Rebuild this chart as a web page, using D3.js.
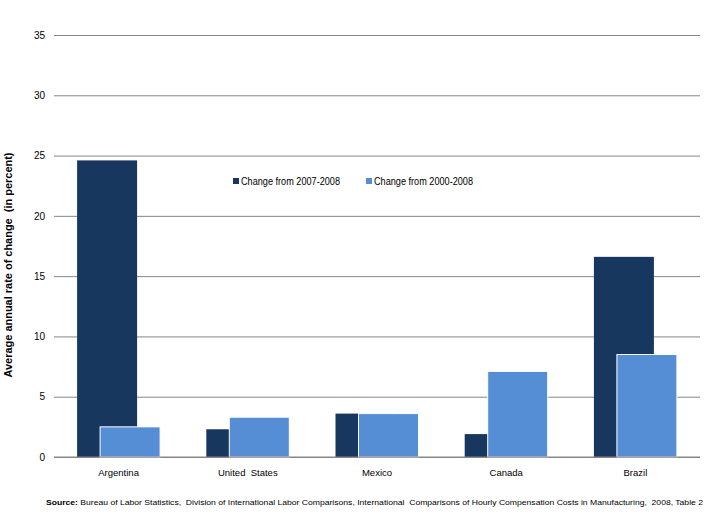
<!DOCTYPE html>
<html>
<head>
<meta charset="utf-8">
<script src="https://cdn.jsdelivr.net/npm/d3@7"></script>
<style>
  body { margin: 0; background: #fff; }
  svg text { font-family: "Liberation Sans", Arial, sans-serif; fill: #000; }
</style>
</head>
<body>
<div class="vis"></div>
<script>
const countries = ["Argentina", "United  States", "Mexico", "Canada", "Brazil"];
const seriesNames = ["Change from 2007-2008", "Change from 2000-2008"];
const change0708 = [24.6, 2.3, 3.6, 1.9, 16.6];
const change0008 = [2.5, 3.3, 3.6, 7.1, 8.5];
const yTicks = [0, 5, 10, 15, 20, 25, 30, 35];
const colors = ["#17375E", "#558ED5"];

const W = 711, H = 516;
const margin = { top: 35, right: 11, bottom: 59, left: 54 };
const width = W - margin.left - margin.right;
const height = H - margin.top - margin.bottom;

const svg = d3.select(".vis").append("svg")
  .attr("width", W).attr("height", H);
const g = svg.append("g")
  .attr("transform", "translate(" + margin.left + "," + margin.top + ")");

const x = d3.scaleBand().domain(countries).range([0, width]);
const y = d3.scaleLinear().domain([0, 35]).range([height, 0]);
// series offset inside each category (bars overlap, Excel style)
const barW = 60;
const off = d3.scaleLinear().domain([0, 1]).range([-41.5, -18.5]);

// gridlines + tick labels
const yAxis = g.append("g")
  .call(d3.axisLeft(y).tickValues(yTicks).tickSize(-width).tickPadding(9));
yAxis.select(".domain").remove();
yAxis.selectAll("line").attr("stroke", "#868686").attr("stroke-width", 1);
yAxis.selectAll("text").style("font-size", "10px");

const series = [change0708, change0008];
series.forEach((vals, si) => {
  g.selectAll(".bar" + si)
    .data(countries)
    .enter()
    .append("rect")
    .attr("x", (d) => x(d) + x.bandwidth() / 2 + off(si))
    .attr("y", (d, i) => y(vals[i]))
    .attr("width", barW)
    .attr("height", (d, i) => y(0) - y(vals[i]))
    .attr("fill", colors[si])
    .attr("stroke", si === 1 ? "#fff" : "none")
    .attr("stroke-width", 1);
});

// baseline
g.append("line")
  .attr("x1", 0).attr("x2", width)
  .attr("y1", y(0)).attr("y2", y(0))
  .attr("stroke", "#868686");

// category labels
g.selectAll(".xlab")
  .data(countries)
  .enter()
  .append("text")
  .attr("x", (d) => x(d) + x.bandwidth() / 2)
  .attr("y", height + 19)
  .attr("text-anchor", "middle")
  .style("font-size", "9.5px")
  .style("white-space", "pre")
  .text((d) => d);

// y title
svg.append("text")
  .attr("transform", "translate(12,265) rotate(-90)")
  .attr("text-anchor", "middle")
  .attr("textLength", 225)
  .attr("lengthAdjust", "spacingAndGlyphs")
  .style("font-size", "11.5px")
  .style("font-weight", "bold")
  .style("white-space", "pre")
  .text("Average annual rate of change  (in percent)");

// legend
const legX = [233, 366];
seriesNames.forEach((name, i) => {
  svg.append("rect")
    .attr("x", legX[i]).attr("y", 178)
    .attr("width", 6).attr("height", 6)
    .attr("fill", colors[i]);
  svg.append("text")
    .attr("x", legX[i] + 8).attr("y", 185)
    .attr("textLength", 99)
    .attr("lengthAdjust", "spacingAndGlyphs")
    .style("font-size", "10px")
    .text(name);
});

// source
const src = svg.append("text")
  .attr("x", 46).attr("y", 505)
  .attr("textLength", 657)
  .attr("lengthAdjust", "spacingAndGlyphs")
  .style("font-size", "7.8px")
  .style("white-space", "pre");
src.append("tspan").style("font-weight", "bold").text("Source: ");
src.append("tspan").text("Bureau of Labor Statistics,  Division of International Labor Comparisons, International  Comparisons of Hourly Compensation Costs in Manufacturing,  2008, Table 2");
</script>
</body>
</html>
